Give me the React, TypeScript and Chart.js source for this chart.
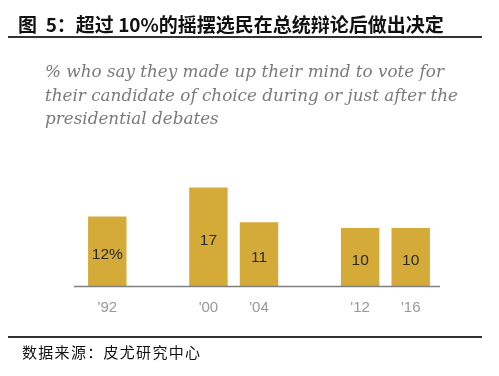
import React, { useEffect, useRef } from "react";
import { Chart, registerables } from "chart.js";

Chart.register(...registerables);

const categories = ["'92", "", "'00", "'04", "", "'12", "'16"];
const shares = [12, null, 17, 11, null, 10, 10];
const valueLabels = ["12%", "", "17", "11", "", "10", "10"];

const titleText = "图  5：超过 10%的摇摆选民在总统辩论后做出决定";
const subtitleLines = [
  "% who say they made up their mind to vote for",
  "their candidate of choice during or just after the",
  "presidential debates",
];
const sourceText = "数据来源：皮尤研究中心";

const BAR = "#D4AA38";

const overlay = {
  id: "overlay",
  afterDatasetsDraw(chart: any) {
    const { ctx, chartArea } = chart;
    const meta = chart.getDatasetMeta(0);
    ctx.save();
    ctx.font = "15.5px 'Liberation Sans', Arial, sans-serif";
    ctx.fillStyle = "#2a2a2a";
    ctx.textAlign = "center";
    ctx.textBaseline = "middle";
    meta.data.forEach((el: any, i: number) => {
      if (shares[i] == null) return;
      const y = (el.y + el.base) / 2 + 4;
      ctx.fillText(valueLabels[i], el.x, y);
    });
    ctx.strokeStyle = "#808080";
    ctx.lineWidth = 1.5;
    ctx.beginPath();
    ctx.moveTo(chartArea.left - 8, chartArea.bottom + 0.5);
    ctx.lineTo(chartArea.right + 4, chartArea.bottom + 0.5);
    ctx.stroke();
    ctx.restore();
  },
};

export default function App() {
  const ref = useRef<HTMLCanvasElement | null>(null);
  useEffect(() => {
    if (!ref.current) return;
    const chart = new Chart(ref.current, {
      type: "bar",
      data: {
        labels: categories,
        datasets: [
          {
            data: shares as any,
            backgroundColor: BAR,
            borderWidth: 0,
            categoryPercentage: 1,
            barPercentage: 0.76,
          },
        ],
      },
      options: {
        animation: false,
        responsive: false,
        maintainAspectRatio: false,
        layout: { padding: { left: 82, right: 63, top: 170, bottom: 50 } },
        plugins: { legend: { display: false }, tooltip: { enabled: false } },
        scales: {
          x: {
            grid: { display: false },
            border: { display: false },
            ticks: {
              color: "#999999",
              font: { size: 15, family: "'Liberation Sans', Arial, sans-serif" },
              padding: 5,
              maxRotation: 0,
              autoSkip: false,
            },
            afterFit: (axis: any) => {
              axis.height = 40;
            },
          },
          y: { display: false, min: 0, max: 20 },
        },
      },
      plugins: [overlay],
    });
    return () => chart.destroy();
  }, []);

  return (
    <div
      style={{
        position: "fixed",
        left: 0,
        top: 0,
        width: 499,
        height: 376,
        background: "#fff",
        overflow: "hidden",
      }}
    >
      <canvas ref={ref} width={499} height={376} style={{ position: "absolute", left: 0, top: 0 }} />
      <div
        style={{
          position: "absolute",
          left: 18,
          top: 12,
          fontFamily: "'Noto Sans CJK SC', sans-serif",
          fontWeight: 700,
          fontSize: 19,
          lineHeight: "24px",
          color: "#111",
          whiteSpace: "pre",
        }}
      >
        {titleText}
      </div>
      <div style={{ position: "absolute", left: 8, top: 36, width: 474, height: 1.5, background: "#333" }} />
      <div
        style={{
          position: "absolute",
          left: 45,
          top: 60,
          fontFamily: "'DejaVu Serif', serif",
          fontStyle: "italic",
          fontSize: 16.8,
          lineHeight: "23.5px",
          color: "#7a7a7a",
          whiteSpace: "nowrap",
        }}
      >
        {subtitleLines.map((l, i) => (
          <div key={i}>{l}</div>
        ))}
      </div>
      <div style={{ position: "absolute", left: 8, top: 336, width: 474, height: 1.5, background: "#333" }} />
      <div
        style={{
          position: "absolute",
          left: 22,
          top: 342,
          fontFamily: "'Noto Sans CJK SC', sans-serif",
          fontSize: 15,
          lineHeight: "20px",
          letterSpacing: 1.3,
          color: "#111",
          whiteSpace: "nowrap",
        }}
      >
        {sourceText}
      </div>
    </div>
  );
}
